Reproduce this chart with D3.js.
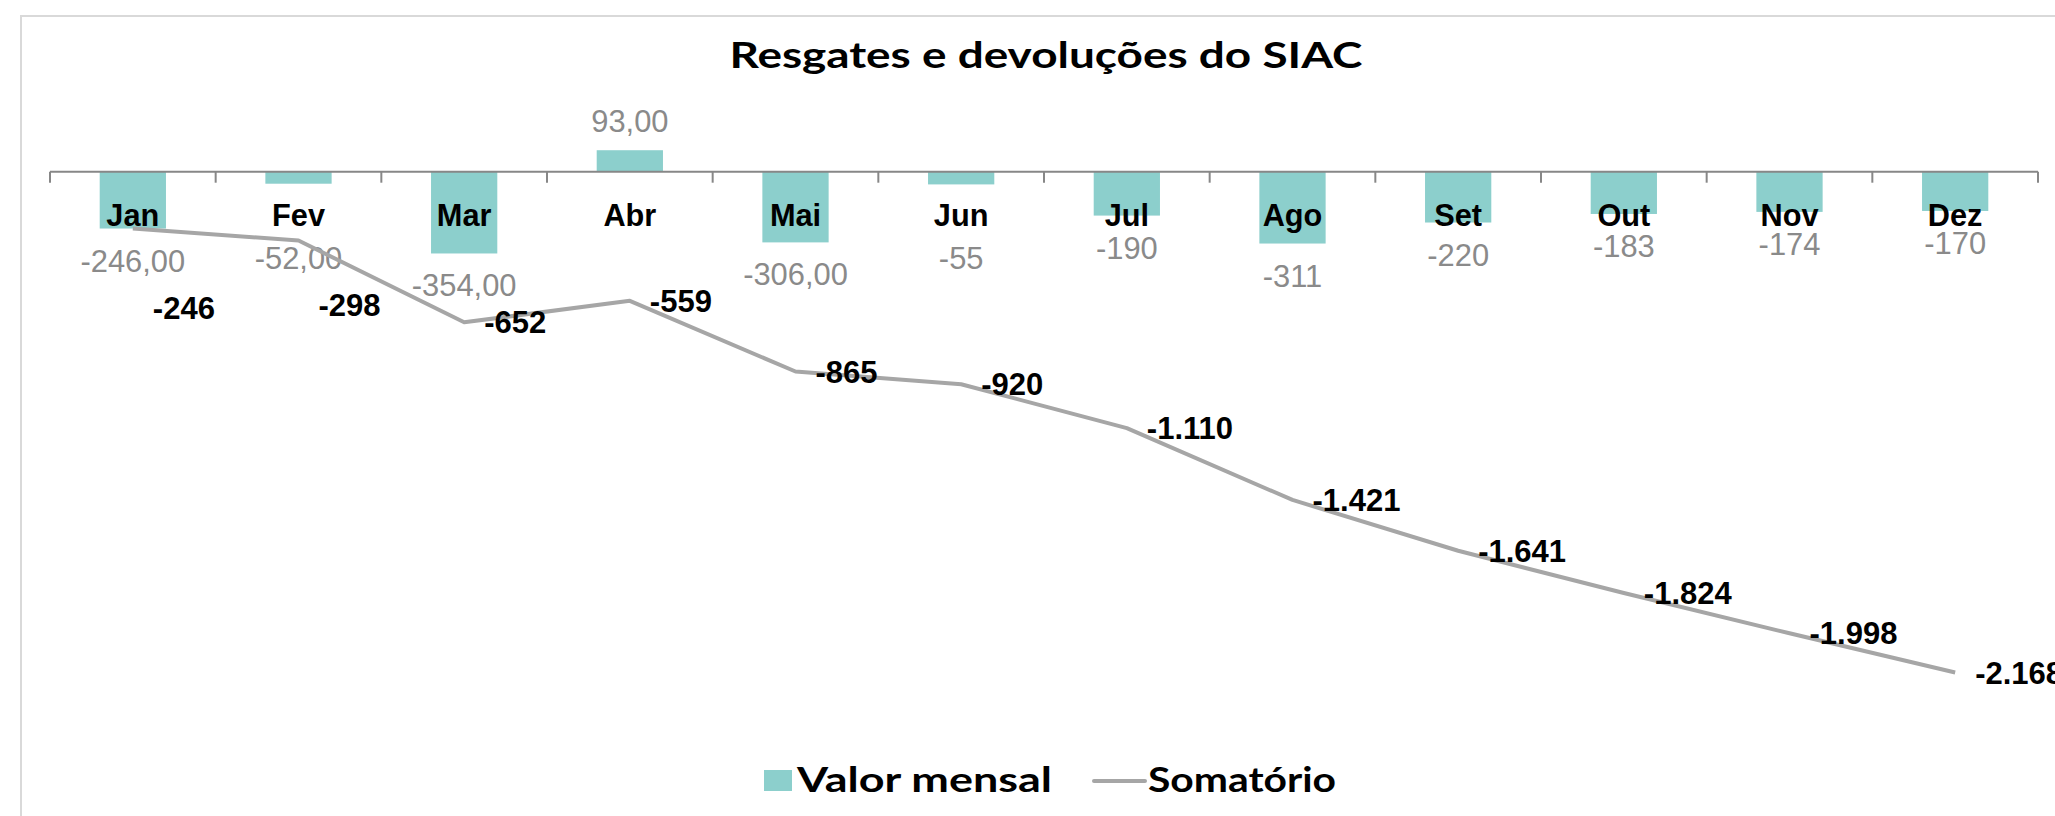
<!DOCTYPE html>
<html>
<head>
<meta charset="utf-8">
<script src="https://cdn.jsdelivr.net/npm/d3@7"></script>
<style>
  html, body { margin: 0; padding: 0; background: #fff; overflow: hidden; }
  svg { display: block; }
</style>
</head>
<body>
<svg id="root" width="2055" height="816"></svg>
<script>
"use strict";

// chart data
const meses = ["Jan", "Fev", "Mar", "Abr", "Mai", "Jun", "Jul", "Ago", "Set", "Out", "Nov", "Dez"];
const valorMensal = [-246, -52, -354, 93, -306, -55, -190, -311, -220, -183, -174, -170];
const somatorio = [-246, -298, -652, -559, -865, -920, -1110, -1421, -1641, -1824, -1998, -2168];
const rotulosMensais = ["-246,00", "-52,00", "-354,00", "93,00", "-306,00", "-55", "-190", "-311", "-220", "-183", "-174", "-170"];
const yDomain = [-2500, 500];

const barColor = "#8ccfcc";
const lineColor = "#a6a6a6";
const axisColor = "#878787";
const labelGray = "#8a8a8a";
const arial = "'Liberation Sans', Arial, sans-serif";

const ptBR = d3.formatLocale({
  decimal: ",",
  thousands: ".",
  grouping: [3],
  currency: ["R$", ""],
  minus: "-",
});
const fmt = ptBR.format(",d");

const svg = d3.select("#root");

const x = d3
  .scaleBand()
  .domain(meses)
  .range([50, 2038])
  .paddingInner(0.6)
  .paddingOuter(0.3);
const y = d3.scaleLinear().domain(yDomain).range([749.2, 56.2]);
const cx = (m) => x(m) + x.bandwidth() / 2;

const catBaseline = 226;

drawFrame();
drawTitle();
drawBars();
drawAxis();
const barLabelBase = drawBarLabels();
drawLine();
drawLineLabels(barLabelBase);
drawLegend();

function drawFrame() {
  // light border of the chart area (cut by the picture on right and bottom)
  svg
    .append("path")
    .attr("d", "M21,816 L21,16 L2055,16")
    .attr("fill", "none")
    .attr("stroke", "#d9d9d9")
    .attr("stroke-width", 2);
}

function drawTitle() {
  svg
    .append("text")
    .attr("x", 1046)
    .attr("y", 68)
    .attr("text-anchor", "middle")
    .attr("font-family", "Lato, 'Open Sans', sans-serif")
    .attr("font-weight", "bold")
    .attr("font-size", "37px")
    .attr("textLength", 633)
    .attr("lengthAdjust", "spacingAndGlyphs")
    .attr("fill", "#000")
    .text("Resgates e devoluções do SIAC");
}

function drawBars() {
  svg
    .append("g")
    .selectAll("rect")
    .data(meses)
    .join("rect")
    .attr("x", (d) => x(d))
    .attr("width", x.bandwidth())
    .attr("y", (d, i) => Math.min(y(valorMensal[i]), y(0)))
    .attr("height", (d, i) => Math.abs(y(valorMensal[i]) - y(0)))
    .attr("fill", barColor);
}

function drawAxis() {
  const g = svg.append("g");
  const step = x.step();
  const x0 = x.range()[0];
  const boundaries = d3.range(meses.length + 1).map((i) => x0 + i * step);

  g.append("line")
    .attr("x1", x0)
    .attr("x2", x.range()[1])
    .attr("y1", y(0))
    .attr("y2", y(0))
    .attr("stroke", axisColor)
    .attr("stroke-width", 2);

  g.selectAll(".tick")
    .data(boundaries)
    .join("line")
    .attr("class", "tick")
    .attr("x1", (d) => d)
    .attr("x2", (d) => d)
    .attr("y1", y(0))
    .attr("y2", y(0) + 11)
    .attr("stroke", axisColor)
    .attr("stroke-width", 2);

  g.selectAll("text")
    .data(meses)
    .join("text")
    .attr("transform", (d) => `translate(${cx(d)},${catBaseline}) scale(0.96,1)`)
    .attr("text-anchor", "middle")
    .attr("font-family", arial)
    .attr("font-weight", "bold")
    .attr("font-size", "32px")
    .attr("fill", "#000")
    .text((d) => d);
}

function drawBarLabels() {
  // outside end, pushed below the month name when they would collide
  const base = valorMensal.map((v) => {
    if (v >= 0) return y(v) - 18;
    let b = y(v) + 43;
    if (b < catBaseline + 20) b = catBaseline + 43;
    return b;
  });

  svg
    .append("g")
    .selectAll("text")
    .data(meses)
    .join("text")
    .attr("transform", (d, i) => `translate(${cx(d)},${base[i]}) scale(0.965,1)`)
    .attr("text-anchor", "middle")
    .attr("font-family", arial)
    .attr("font-size", "32px")
    .attr("fill", labelGray)
    .text((d, i) => rotulosMensais[i]);

  return base;
}

function drawLine() {
  const line = d3
    .line()
    .x((d, i) => cx(meses[i]))
    .y((d) => y(d));

  svg
    .append("path")
    .datum(somatorio)
    .attr("d", line)
    .attr("fill", "none")
    .attr("stroke", lineColor)
    .attr("stroke-width", 4)
    .attr("stroke-linejoin", "round");
}

function drawLineLabels(barBase) {
  // labels to the right of each point; moved under the bar label if crowded
  const base = somatorio.map((v, i) => {
    const b = y(v) + 11;
    const top = b - 22;
    const hitsMonth = top < catBaseline + 6;
    const hitsBar = valorMensal[i] < 0 && top < barBase[i] + 4 && b > barBase[i] - 26;
    return hitsMonth || hitsBar ? barBase[i] + 47 : b;
  });

  svg
    .append("g")
    .selectAll("text")
    .data(meses)
    .join("text")
    .attr("x", (d) => cx(d) + 20)
    .attr("y", (d, i) => base[i])
    .attr("font-family", arial)
    .attr("font-weight", "bold")
    .attr("font-size", "31px")
    .attr("fill", "#000")
    .text((d, i) => fmt(somatorio[i]));
}

function drawLegend() {
  const g = svg.append("g");
  const font = "Lato, 'Open Sans', sans-serif";

  g.append("rect")
    .attr("x", 764)
    .attr("y", 770)
    .attr("width", 28)
    .attr("height", 21)
    .attr("fill", barColor);

  g.append("text")
    .attr("x", 797)
    .attr("y", 792)
    .attr("font-family", font)
    .attr("font-weight", "bold")
    .attr("font-size", "34px")
    .attr("textLength", 255)
    .attr("lengthAdjust", "spacingAndGlyphs")
    .text("Valor mensal");

  g.append("line")
    .attr("x1", 1094)
    .attr("x2", 1145)
    .attr("y1", 781)
    .attr("y2", 781)
    .attr("stroke", lineColor)
    .attr("stroke-width", 4)
    .attr("stroke-linecap", "round");

  g.append("text")
    .attr("x", 1148)
    .attr("y", 792)
    .attr("font-family", font)
    .attr("font-weight", "bold")
    .attr("font-size", "34px")
    .attr("textLength", 188)
    .attr("lengthAdjust", "spacingAndGlyphs")
    .text("Somatório");
}
</script>
</body>
</html>
